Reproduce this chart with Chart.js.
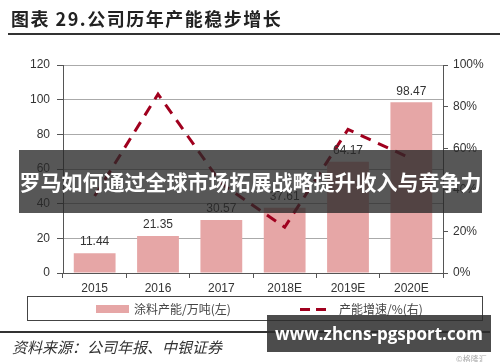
<!DOCTYPE html>
<html>
<head>
<meta charset="utf-8">
<script src="https://cdn.jsdelivr.net/npm/chart.js@4"></script>
<style>
  html, body { margin: 0; padding: 0; background: #fff; }
  #wrap { position: relative; width: 500px; height: 362px; overflow: hidden; font-family: "Liberation Sans", Arial, sans-serif; }
  #chart { position: absolute; left: 0; top: 0; }
  .abs { position: absolute; white-space: nowrap; }
  #title { left: 11px; top: 5px; font: bold 18px "Noto Sans CJK SC", sans-serif; color: #222; letter-spacing: 1.5px; }
  #titleLine { left: 8px; top: 33px; width: 492px; height: 2px; background: #333; }
  #legendBox { left: 27px; top: 296px; width: 456px; height: 25px; border: 1px solid #444; box-sizing: border-box; }
  #lgBar { left: 96px; top: 305px; width: 33px; height: 8px; background: #E6A6A6; }
  #lgBarTxt { left: 134px; top: 300px; font: 12px "Noto Sans CJK SC", sans-serif; color: #444; }
  #lgLine1 { left: 300px; top: 308px; width: 10px; height: 3px; background: #A0001E; }
  #lgLine2 { left: 316px; top: 308px; width: 10px; height: 3px; background: #A0001E; }
  #lgLineTxt { left: 339px; top: 300px; font: 12px "Noto Sans CJK SC", sans-serif; color: #444; }
  #srcLine { left: 0; top: 331px; width: 490px; height: 2px; background: #333; }
  #source { left: 12px; top: 336px; font: italic 15px "Noto Sans CJK SC", sans-serif; color: #333; }
  #banner { left: 19px; top: 150px; width: 463px; height: 63px; background: rgba(40,40,40,0.78); color: #fff;
            font: bold 21px "Noto Sans CJK SC", sans-serif; line-height: 63px; text-align: center; }
  #wm { left: 267px; top: 315px; width: 224px; height: 37px; background: rgba(45,45,45,0.85); color: #fff;
        font: bold 17px "Open Sans", "DejaVu Sans", sans-serif; line-height: 37px; text-align: center; }
  #gl { left: 456px; top: 353px; font: 8px "Noto Sans CJK SC", sans-serif; color: #aaa; }
</style>
</head>
<body>
<div id="wrap">
  <canvas id="chart" width="500" height="362"></canvas>
  <div class="abs" id="title">图表 29.公司历年产能稳步增长</div>
  <div class="abs" id="titleLine"></div>
  <div class="abs" id="legendBox"></div>
  <div class="abs" id="lgBar"></div>
  <div class="abs" id="lgBarTxt">涂料产能/万吨(左)</div>
  <div class="abs" id="lgLine1"></div>
  <div class="abs" id="lgLine2"></div>
  <div class="abs" id="lgLineTxt">产能增速/%(右)</div>
  <div class="abs" id="srcLine"></div>
  <div class="abs" id="source">资料来源：公司年报、中银证券</div>
  <div class="abs" id="banner">罗马如何通过全球市场拓展战略提升收入与竞争力</div>
  <div class="abs" id="wm">www.zhcns-pgsport.com</div>
  <div class="abs" id="gl">©格隆汇</div>
</div>
<script>
// data
const years = ['2015', '2016', '2017', '2018E', '2019E', '2020E'];
const capacity = [11.44, 21.35, 30.57, 37.61, 64.17, 98.47];
const growth = [37, 86, 43, 22, 69, 55];
const leftTicks = [0, 20, 40, 60, 80, 100, 120];
const rightTicks = [0, 20, 40, 60, 80, 100];

const tickFont = { family: '"Liberation Sans", Arial, sans-serif', size: 12 };

// value labels above the bars
const barLabels = {
  id: 'barLabels',
  afterDatasetsDraw(chart) {
    const ctx = chart.ctx;
    const meta = chart.getDatasetMeta(1);
    ctx.save();
    ctx.font = '12px "Liberation Sans", Arial, sans-serif';
    ctx.fillStyle = '#333';
    ctx.textAlign = 'center';
    ctx.textBaseline = 'bottom';
    meta.data.forEach((bar, i) => {
      ctx.fillText(capacity[i].toFixed(2), bar.x, bar.y - 5);
    });
    ctx.restore();
  }
};

new Chart(document.getElementById('chart'), {
  data: {
    labels: years,
    datasets: [
      {
        type: 'line',
        label: '产能增速/%(右)',
        data: growth,
        yAxisID: 'y1',
        borderColor: '#A0001E',
        borderWidth: 3,
        borderDash: [11, 8],
        pointRadius: 0,
        tension: 0,
        fill: false,
        order: 0,
      },
      {
        type: 'bar',
        label: '涂料产能/万吨(左)',
        data: capacity,
        yAxisID: 'y',
        backgroundColor: '#E6A6A6',
        barPercentage: 0.66,
        categoryPercentage: 1,
        order: 1,
      },
    ],
  },
  options: {
    responsive: false,
    animation: false,
    layout: { padding: { top: 65, left: 0, right: 0, bottom: 0 } },
    plugins: { legend: { display: false }, tooltip: { enabled: false } },
    scales: {
      x: {
        grid: { drawOnChartArea: false, drawTicks: true, tickLength: 5, color: '#555', offset: true },
        border: { color: '#555', width: 1 },
        ticks: { color: '#333', font: tickFont, padding: 3, maxRotation: 0 },
        afterFit(scale) { scale.height = 89; },
      },
      y: {
        position: 'left',
        min: 0,
        max: 120,
        afterBuildTicks(scale) { scale.ticks = leftTicks.map(v => ({ value: v })); },
        grid: { color: '#aaa', borderDash: [3, 2], tickLength: 6, tickColor: '#555', tickBorderDash: [] },
        border: { color: '#555', width: 1 },
        ticks: { color: '#333', font: tickFont, padding: 7 },
        afterFit(scale) { scale.width = 63; },
      },
      y1: {
        position: 'right',
        min: 0,
        max: 100,
        afterBuildTicks(scale) { scale.ticks = rightTicks.map(v => ({ value: v })); },
        grid: { drawOnChartArea: false, tickLength: 5, color: '#555' },
        border: { color: '#555', width: 1 },
        ticks: { color: '#333', font: tickFont, padding: 5, callback: v => v + '%' },
        afterFit(scale) { scale.width = 57; },
      },
    },
  },
  plugins: [barLabels],
});
</script>
</body>
</html>
